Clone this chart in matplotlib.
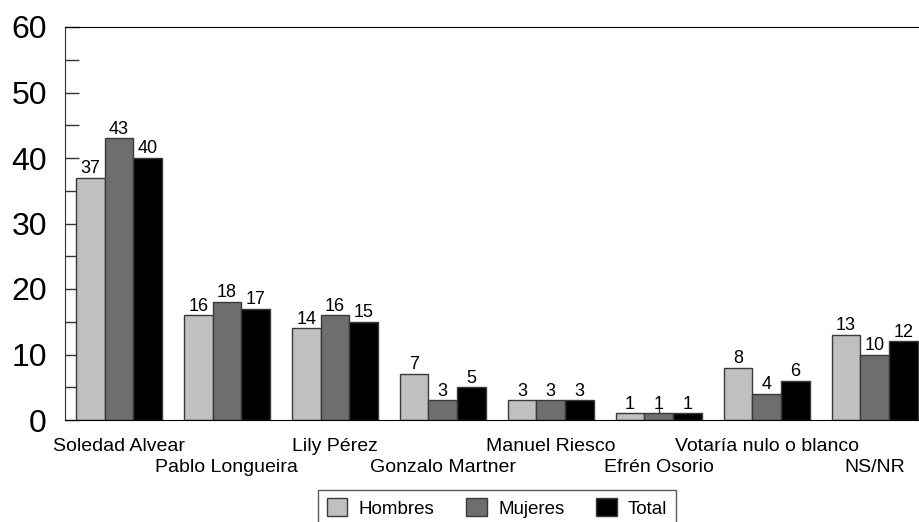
import matplotlib
matplotlib.use("Agg")
import matplotlib.pyplot as plt
import numpy as np
from matplotlib.ticker import MultipleLocator

plt.rcParams['font.family'] = ['Liberation Sans', 'DejaVu Sans']

# Data
categories = ["Soledad Alvear", "Pablo Longueira", "Lily Pérez", "Gonzalo Martner",
              "Manuel Riesco", "Efrén Osorio", "Votaría nulo o blanco", "NS/NR"]
hombres = [37, 16, 14, 7, 3, 1, 8, 13]
mujeres = [43, 18, 16, 3, 3, 1, 4, 10]
total = [40, 17, 15, 5, 3, 1, 6, 12]
series_names = ["Hombres", "Mujeres", "Total"]
series_colors = ["#c0c0c0", "#6e6e6e", "#000000"]

fig = plt.figure(figsize=(9.2, 5.22), dpi=100)
ax = fig.add_axes([65 / 920, 1 - 420 / 522, 1 - 65 / 920, (420 - 27) / 522])

x = np.arange(len(categories))
w = 0.266
for i, (vals, name, col) in enumerate(zip([hombres, mujeres, total], series_names, series_colors)):
    b = ax.bar(x + (i - 1) * w, vals, w, color=col, edgecolor="#3a3a3a",
               linewidth=1, label=name, zorder=2)
    for rect, v in zip(b, vals):
        ax.annotate(str(v), (rect.get_x() + rect.get_width() / 2, rect.get_height()),
                    xytext=(0, 0.5), textcoords="offset points",
                    ha="center", va="bottom", fontsize=13)

ax.set_ylim(0, 60)
ax.set_xlim(-0.5, 7.42)
ax.yaxis.set_major_locator(MultipleLocator(10))
ax.yaxis.set_minor_locator(MultipleLocator(5))
ax.tick_params(axis="y", which="both", direction="in", length=10, width=1,
               color="#333333", labelsize=23, pad=13)
ax.tick_params(axis="x", direction="in", length=9, width=1, color="#333333")
ax.set_xticks(x)
ax.set_xticklabels([])
# category labels alternate between two rows
for i, c in enumerate(categories):
    ax.annotate(c, (x[i], 0), xycoords=("data", "axes fraction"),
                xytext=(0, -19 if i % 2 == 0 else -34.5), textcoords="offset points",
                ha="center", va="center", fontsize=14, annotation_clip=False)

ax.spines["right"].set_visible(False)
ax.spines["left"].set_color("#333333")

handles, labels = ax.get_legend_handles_labels()
leg = fig.legend(handles, labels, loc="upper center",
                 bbox_to_anchor=(497 / 920, 1 - 490 / 522), ncol=3,
                 fontsize=13.5, frameon=True, fancybox=False, edgecolor="#333333",
                 handlelength=1.1, handleheight=1.1, columnspacing=1.7,
                 borderpad=0.45, handletextpad=0.6, borderaxespad=0)
leg.get_frame().set_linewidth(1)

fig.savefig("out.png", dpi=100)
